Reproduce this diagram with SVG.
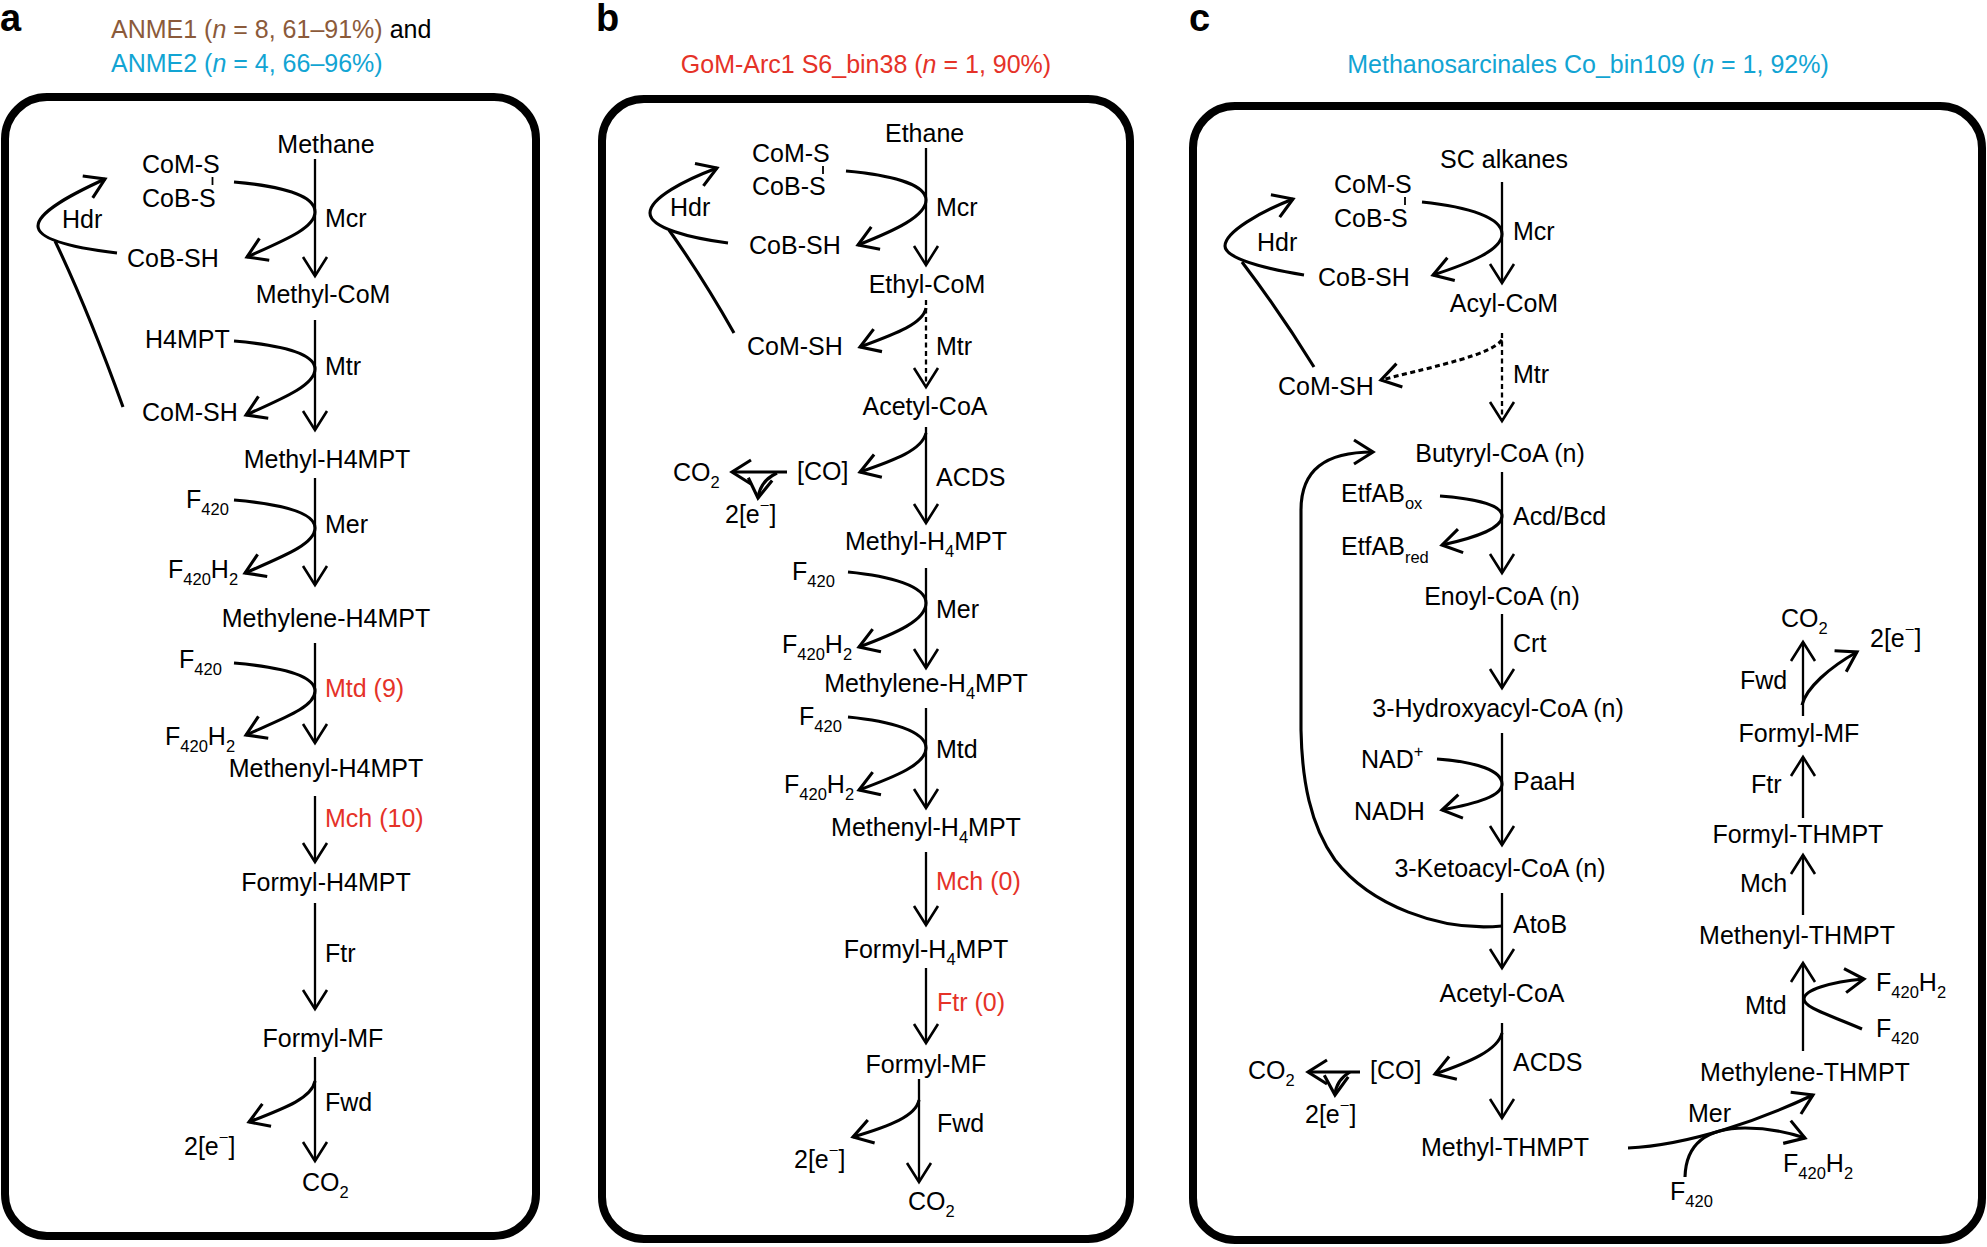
<svg xmlns="http://www.w3.org/2000/svg" width="1987" height="1247" viewBox="0 0 1987 1247">
<style>
text { font-family: "Liberation Sans", Arial, sans-serif; font-size: 25px; fill: #000; }
.m { text-anchor: middle; }
.s { font-size: 16.5px; }
.r { fill: #E53228; }
.br { fill: #8B5A3A; }
.cy { fill: #12A4D3; }
.lbl { font-size: 38px; font-weight: bold; }
.box { fill: none; stroke: #000; stroke-width: 8; }
.ax { fill: none; stroke: #000; stroke-width: 2.3; marker-end: url(#ah); }
.cv { fill: none; stroke: #000; stroke-width: 3.1; marker-end: url(#ahc); }
.ln { fill: none; stroke: #000; stroke-width: 3.1; }
.dash { stroke-dasharray: 5 3.5; }
.tick { stroke: #000; stroke-width: 1.8; }
</style>
<defs>
<marker id="ah" markerUnits="userSpaceOnUse" markerWidth="40" markerHeight="40" viewBox="-30 -20 40 40" refX="0" refY="0" orient="auto" overflow="visible">
<path d="M-19,-12 L0,0 L-19,12" fill="none" stroke="#000" stroke-width="2.6" stroke-dasharray="none"/>
</marker>
<marker id="ahc" markerUnits="userSpaceOnUse" markerWidth="40" markerHeight="40" viewBox="-30 -20 40 40" refX="0" refY="0" orient="auto" overflow="visible">
<path d="M-19,-12 L0,0 L-19,12" fill="none" stroke="#000" stroke-width="3.1" stroke-dasharray="none"/>
</marker>
</defs>
<rect width="1987" height="1247" fill="#fff"/>

<g id="panel-labels">
<text class="lbl" x="0" y="31">a</text>
<text class="lbl" x="596" y="31">b</text>
<text class="lbl" x="1189" y="31">c</text>
</g>
<g id="headings">
<text x="111" y="38"><tspan class="br">ANME1 (<tspan font-style="italic">n</tspan> = 8, 61–91%)</tspan> and</text>
<text class="cy" x="111" y="72">ANME2 (<tspan font-style="italic">n</tspan> = 4, 66–96%)</text>
<text class="r m" x="866" y="73">GoM-Arc1 S6_bin38 (<tspan font-style="italic">n</tspan> = 1, 90%)</text>
<text class="cy m" x="1588" y="73">Methanosarcinales Co_bin109 (<tspan font-style="italic">n</tspan> = 1, 92%)</text>
</g>
<g id="boxes">
<rect class="box" x="5" y="97" width="531" height="1139" rx="42"/>
<rect class="box" x="602" y="99" width="528" height="1140" rx="42"/>
<rect class="box" x="1193" y="106" width="789" height="1134" rx="42"/>
</g>

<g id="connectors">
<!-- panel a -->
<path class="ax" d="M315,159 L315,276"/>
<path class="ax" d="M315,320 L315,430"/>
<path class="ax" d="M315,478 L315,585"/>
<path class="ax" d="M315,643 L315,743"/>
<path class="ax" d="M315,796 L315,862"/>
<path class="ax" d="M315,903 L315,1009"/>
<path class="ax" d="M315,1057 L315,1161"/>
<path class="cv" d="M234,182 C280,186 315,195 315,212 C315,228 285,240 247,257"/>
<path class="cv" d="M234,341 C280,345 315,353 315,369 C315,385 284,398 246,415"/>
<path class="cv" d="M234,500 C280,504 315,512 315,528 C315,544 284,556 245,573"/>
<path class="cv" d="M234,663 C280,667 315,675 315,691 C315,707 284,718 246,735"/>
<path class="cv" d="M315,1081 C312,1098 285,1108 249,1122"/>
<path class="cv" d="M117,253 C75,248 38,240 38,226 C38,212 70,195 105,179"/>
<path class="ln" d="M123,407 Q88,310 55,241"/>
<line class="tick" x1="212.5" y1="177" x2="212.5" y2="185"/>
<!-- panel b -->
<path class="ax" d="M926,148 L926,265"/>
<path class="ax dash" d="M926,300 L926,387"/>
<path class="ax" d="M926,427 L926,523"/>
<path class="ax" d="M926,568 L926,668"/>
<path class="ax" d="M926,708 L926,808"/>
<path class="ax" d="M926,852 L926,925"/>
<path class="ax" d="M926,968 L926,1043"/>
<path class="ax" d="M919,1079 L919,1182"/>
<path class="cv" d="M846,171 C890,175 926,184 926,200 C926,216 896,230 858,245"/>
<path class="cv" d="M728,243 C690,238 650,228 650,213 C650,198 685,180 717,168"/>
<path class="ln" d="M734,333 Q703,278 669,230"/>
<path class="cv" d="M926,308 C923,324 895,334 860,347"/>
<path class="cv" d="M926,433 C922,450 895,460 860,472"/>
<path class="cv" d="M787,472 L732,472"/>
<path class="cv" d="M777,473 Q760,481 758,498"/>
<path class="cv" d="M848,572 C890,576 926,586 926,603 C926,620 897,633 859,647"/>
<path class="cv" d="M848,717 C890,721 926,731 926,748 C926,764 897,776 859,790"/>
<path class="cv" d="M919,1100 C916,1116 890,1126 853,1137"/>
<line class="tick" x1="823" y1="166" x2="823" y2="174"/>
<!-- panel c -->
<path class="ax" d="M1502,182 L1502,283"/>
<path class="ax dash" d="M1502,333 L1502,421"/>
<path class="ax" d="M1502,472 L1502,573"/>
<path class="ax" d="M1502,614 L1502,688"/>
<path class="ax" d="M1502,733 L1502,845"/>
<path class="ax" d="M1502,893 L1502,968"/>
<path class="ax" d="M1502,1023 L1502,1118"/>
<path class="cv" d="M1422,202 C1470,207 1502,218 1502,234 C1502,250 1470,263 1433,275"/>
<path class="cv" d="M1304,275 C1262,268 1225,258 1225,246 C1225,232 1260,212 1293,199"/>
<path class="ln" d="M1314,367 Q1280,312 1242,262"/>
<path class="cv dash" d="M1502,340 C1490,355 1440,365 1381,380"/>
<path class="cv" d="M1440,496 C1480,499 1502,506 1502,516 C1502,528 1478,537 1442,545"/>
<path class="cv" d="M1437,759 C1478,762 1502,771 1502,784 C1502,796 1478,803 1442,810"/>
<path class="cv" d="M1502,926 C1440,932 1370,905 1335,860 C1310,825 1302,780 1301,730 L1301,510 C1301,470 1325,452 1373,452"/>
<path class="cv" d="M1502,1033 C1498,1050 1470,1062 1435,1074"/>
<path class="cv" d="M1360,1072 L1308,1072"/>
<path class="cv" d="M1350,1072 Q1336,1080 1335,1095"/>
<path class="cv" d="M1628,1148 C1690,1145 1760,1120 1813,1095"/>
<path class="cv" d="M1685,1177 C1686,1140 1712,1128 1745,1128 C1770,1128 1790,1133 1805,1138"/>
<path class="ax" d="M1803,716 L1803,642"/>
<path class="ax" d="M1803,818 L1803,757"/>
<path class="ax" d="M1803,915 L1803,855"/>
<path class="ax" d="M1803,1051 L1803,963"/>
<path class="cv" d="M1802,705 C1806,688 1830,667 1857,652"/>
<path class="cv" d="M1862,1029 C1830,1015 1804,1008 1804,999 C1804,990 1830,982 1864,979"/>
<line class="tick" x1="1405" y1="197" x2="1405" y2="205"/>
</g>

<!-- panel a nodes -->
<g id="a-methane"><text class="m" x="326" y="153">Methane</text></g>
<g id="a-coms-cobs"><text x="142" y="173">CoM-S</text><text x="142" y="207">CoB-S</text></g>
<g id="a-hdr"><text x="62" y="228">Hdr</text></g>
<g id="a-cobsh"><text x="127" y="267">CoB-SH</text></g>
<g id="a-mcr"><text x="325" y="227">Mcr</text></g>
<g id="a-methylcom"><text class="m" x="323" y="303">Methyl-CoM</text></g>
<g id="a-h4mpt"><text x="145" y="348">H4MPT</text></g>
<g id="a-mtr"><text x="325" y="375">Mtr</text></g>
<g id="a-comsh"><text x="142" y="421">CoM-SH</text></g>
<g id="a-methylh4mpt"><text class="m" x="327" y="468">Methyl-H4MPT</text></g>
<g id="a-f420-1"><text x="186" y="508">F<tspan class="s" dy="7">420</tspan></text></g>
<g id="a-mer"><text x="325" y="533">Mer</text></g>
<g id="a-f420h2-1"><text x="168" y="578">F<tspan class="s" dy="7">420</tspan><tspan dy="-7">H</tspan><tspan class="s" dy="7">2</tspan></text></g>
<g id="a-methyleneh4mpt"><text class="m" x="326" y="627">Methylene-H4MPT</text></g>
<g id="a-f420-2"><text x="179" y="668">F<tspan class="s" dy="7">420</tspan></text></g>
<g id="a-mtd"><text class="r" x="325" y="697">Mtd (9)</text></g>
<g id="a-f420h2-2"><text x="165" y="745">F<tspan class="s" dy="7">420</tspan><tspan dy="-7">H</tspan><tspan class="s" dy="7">2</tspan></text></g>
<g id="a-methenylh4mpt"><text class="m" x="326" y="777">Methenyl-H4MPT</text></g>
<g id="a-mch"><text class="r" x="325" y="827">Mch (10)</text></g>
<g id="a-formylh4mpt"><text class="m" x="326" y="891">Formyl-H4MPT</text></g>
<g id="a-ftr"><text x="325" y="962">Ftr</text></g>
<g id="a-formylmf"><text class="m" x="323" y="1047">Formyl-MF</text></g>
<g id="a-fwd"><text x="325" y="1111">Fwd</text></g>
<g id="a-2e"><text x="184" y="1155">2[e<tspan class="s" dy="-12">−</tspan><tspan dy="12">]</tspan></text></g>
<g id="a-co2"><text x="302" y="1191">CO<tspan class="s" dy="7">2</tspan></text></g>

<!-- panel b nodes -->
<g id="b-ethane"><text x="885" y="142">Ethane</text></g>
<g id="b-coms-cobs"><text x="752" y="162">CoM-S</text><text x="752" y="195">CoB-S</text></g>
<g id="b-hdr"><text x="670" y="216">Hdr</text></g>
<g id="b-mcr"><text x="936" y="216">Mcr</text></g>
<g id="b-cobsh"><text x="749" y="254">CoB-SH</text></g>
<g id="b-ethylcom"><text class="m" x="927" y="293">Ethyl-CoM</text></g>
<g id="b-mtr"><text x="936" y="355">Mtr</text></g>
<g id="b-comsh"><text x="747" y="355">CoM-SH</text></g>
<g id="b-acetylcoa"><text class="m" x="925" y="415">Acetyl-CoA</text></g>
<g id="b-co"><text x="797" y="480">[CO]</text></g>
<g id="b-acds"><text x="936" y="486">ACDS</text></g>
<g id="b-co2a"><text x="673" y="481">CO<tspan class="s" dy="7">2</tspan></text></g>
<g id="b-2ea"><text x="725" y="523">2[e<tspan class="s" dy="-12">−</tspan><tspan dy="12">]</tspan></text></g>
<g id="b-methylh4mpt"><text class="m" x="926" y="550">Methyl-H<tspan class="s" dy="7">4</tspan><tspan dy="-7">MPT</tspan></text></g>
<g id="b-f420-1"><text x="792" y="580">F<tspan class="s" dy="7">420</tspan></text></g>
<g id="b-mer"><text x="936" y="618">Mer</text></g>
<g id="b-f420h2-1"><text x="782" y="653">F<tspan class="s" dy="7">420</tspan><tspan dy="-7">H</tspan><tspan class="s" dy="7">2</tspan></text></g>
<g id="b-methyleneh4mpt"><text class="m" x="926" y="692">Methylene-H<tspan class="s" dy="7">4</tspan><tspan dy="-7">MPT</tspan></text></g>
<g id="b-f420-2"><text x="799" y="725">F<tspan class="s" dy="7">420</tspan></text></g>
<g id="b-mtd"><text x="936" y="758">Mtd</text></g>
<g id="b-f420h2-2"><text x="784" y="793">F<tspan class="s" dy="7">420</tspan><tspan dy="-7">H</tspan><tspan class="s" dy="7">2</tspan></text></g>
<g id="b-methenylh4mpt"><text class="m" x="926" y="836">Methenyl-H<tspan class="s" dy="7">4</tspan><tspan dy="-7">MPT</tspan></text></g>
<g id="b-mch"><text class="r" x="936" y="890">Mch (0)</text></g>
<g id="b-formylh4mpt"><text class="m" x="926" y="958">Formyl-H<tspan class="s" dy="7">4</tspan><tspan dy="-7">MPT</tspan></text></g>
<g id="b-ftr"><text class="r" x="937" y="1011">Ftr (0)</text></g>
<g id="b-formylmf"><text class="m" x="926" y="1073">Formyl-MF</text></g>
<g id="b-fwd"><text x="937" y="1132">Fwd</text></g>
<g id="b-2eb"><text x="794" y="1168">2[e<tspan class="s" dy="-12">−</tspan><tspan dy="12">]</tspan></text></g>
<g id="b-co2b"><text x="908" y="1210">CO<tspan class="s" dy="7">2</tspan></text></g>

<!-- panel c nodes -->
<g id="c-scalkanes"><text class="m" x="1504" y="168">SC alkanes</text></g>
<g id="c-coms-cobs"><text x="1334" y="193">CoM-S</text><text x="1334" y="227">CoB-S</text></g>
<g id="c-mcr"><text x="1513" y="240">Mcr</text></g>
<g id="c-hdr"><text x="1257" y="251">Hdr</text></g>
<g id="c-cobsh"><text x="1318" y="286">CoB-SH</text></g>
<g id="c-acylcom"><text class="m" x="1504" y="312">Acyl-CoM</text></g>
<g id="c-mtr"><text x="1513" y="383">Mtr</text></g>
<g id="c-comsh"><text x="1278" y="395">CoM-SH</text></g>
<g id="c-butyrylcoa"><text class="m" x="1500" y="462">Butyryl-CoA (n)</text></g>
<g id="c-etfabox"><text x="1341" y="502">EtfAB<tspan class="s" dy="7">ox</tspan></text></g>
<g id="c-acdbcd"><text x="1513" y="525">Acd/Bcd</text></g>
<g id="c-etfabred"><text x="1341" y="555">EtfAB<tspan class="s" dy="8">red</tspan></text></g>
<g id="c-enoylcoa"><text class="m" x="1502" y="605">Enoyl-CoA (n)</text></g>
<g id="c-crt"><text x="1513" y="652">Crt</text></g>
<g id="c-hydroxyacylcoa"><text class="m" x="1498" y="717">3-Hydroxyacyl-CoA (n)</text></g>
<g id="c-nad"><text x="1361" y="768">NAD<tspan class="s" dy="-11">+</tspan></text></g>
<g id="c-paah"><text x="1513" y="790">PaaH</text></g>
<g id="c-nadh"><text x="1354" y="820">NADH</text></g>
<g id="c-ketoacylcoa"><text class="m" x="1500" y="877">3-Ketoacyl-CoA (n)</text></g>
<g id="c-atob"><text x="1513" y="933">AtoB</text></g>
<g id="c-acetylcoa"><text class="m" x="1502" y="1002">Acetyl-CoA</text></g>
<g id="c-acds"><text x="1513" y="1071">ACDS</text></g>
<g id="c-co"><text x="1370" y="1079">[CO]</text></g>
<g id="c-co2a"><text x="1248" y="1079">CO<tspan class="s" dy="7">2</tspan></text></g>
<g id="c-2ea"><text x="1305" y="1123">2[e<tspan class="s" dy="-12">−</tspan><tspan dy="12">]</tspan></text></g>
<g id="c-methylthmpt"><text class="m" x="1505" y="1156">Methyl-THMPT</text></g>
<g id="c-co2b"><text x="1781" y="627">CO<tspan class="s" dy="7">2</tspan></text></g>
<g id="c-2eb"><text x="1870" y="647">2[e<tspan class="s" dy="-12">−</tspan><tspan dy="12">]</tspan></text></g>
<g id="c-fwd"><text x="1740" y="689">Fwd</text></g>
<g id="c-formylmf"><text class="m" x="1799" y="742">Formyl-MF</text></g>
<g id="c-ftr"><text x="1751" y="793">Ftr</text></g>
<g id="c-formylthmpt"><text class="m" x="1798" y="843">Formyl-THMPT</text></g>
<g id="c-mch"><text x="1740" y="892">Mch</text></g>
<g id="c-methenylthmpt"><text class="m" x="1797" y="944">Methenyl-THMPT</text></g>
<g id="c-mtd"><text x="1745" y="1014">Mtd</text></g>
<g id="c-f420h2-1"><text x="1876" y="991">F<tspan class="s" dy="7">420</tspan><tspan dy="-7">H</tspan><tspan class="s" dy="7">2</tspan></text></g>
<g id="c-f420-1"><text x="1876" y="1037">F<tspan class="s" dy="7">420</tspan></text></g>
<g id="c-methylenethmpt"><text class="m" x="1805" y="1081">Methylene-THMPT</text></g>
<g id="c-mer"><text x="1688" y="1122">Mer</text></g>
<g id="c-f420h2-2"><text x="1783" y="1172">F<tspan class="s" dy="7">420</tspan><tspan dy="-7">H</tspan><tspan class="s" dy="7">2</tspan></text></g>
<g id="c-f420-2"><text x="1670" y="1200">F<tspan class="s" dy="7">420</tspan></text></g>
</svg>
